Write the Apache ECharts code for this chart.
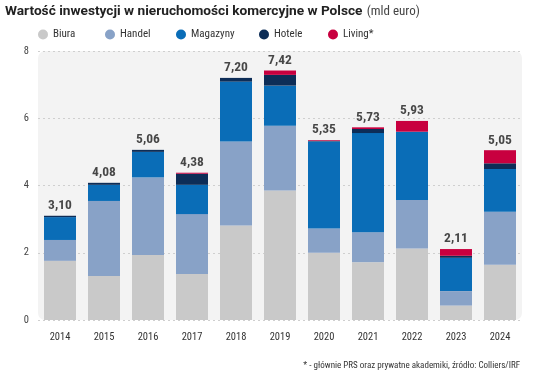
<!DOCTYPE html>
<html><head><meta charset="utf-8">
<script src="https://cdn.jsdelivr.net/npm/echarts@6/dist/echarts.min.js"></script>
<style>html,body{margin:0;padding:0;background:#fff}#c{width:536px;height:376px}</style>
</head><body><div id="c"></div>
<script>
var years = ['2014','2015','2016','2017','2018','2019','2020','2021','2022','2023','2024'];
var biura    = [1.76,1.31,1.93,1.37,2.81,3.85,2.00,1.72,2.13,0.43,1.64];
var handel   = [0.62,2.23,2.31,1.78,2.50,1.93,0.72,0.89,1.44,0.43,1.58];
var magazyny = [0.68,0.48,0.76,0.87,1.78,1.19,2.59,2.95,2.03,0.99,1.27];
var hotele   = [0.04,0.06,0.06,0.33,0.11,0.32,0.02,0.12,0.00,0.06,0.17];
var living   = [0.00,0.00,0.00,0.03,0.00,0.13,0.02,0.05,0.32,0.20,0.39];
var totals   = [3.10,4.08,5.06,4.38,7.20,7.42,5.35,5.73,5.93,2.11,5.05];
var yTicks = [0,2,4,6,8];
var seriesNames = ['Biura','Handel','Magazyny','Hotele','Living*'];

var FONT = "'Roboto Condensed','DejaVu Sans Condensed',sans-serif";
var colors = {Biura:'#c9c9c9', Handel:'#88a2c7', Magazyny:'#0a6db7', Hotele:'#0d2d57', 'Living*':'#c8003f'};
var legendLeft = [38, 105, 176, 259, 328];
var chart = echarts.init(document.getElementById('c'));
function bar(name, data){
  return {name:name, type:'bar', stack:'t', data:data, barWidth:32,
    itemStyle:{color:colors[name]}, emphasis:{disabled:true}};
}
var legends = seriesNames.map(function(n,i){
  return {left:legendLeft[i], top:29, padding:0, icon:'circle', itemWidth:10, itemHeight:10,
    selectedMode:false, textStyle:{fontFamily:FONT, fontSize:11, color:'#333'}, data:[n]};
});
chart.setOption({
  animation:false,
  textStyle:{fontFamily:FONT},
  title:{left:5, top:3, padding:0,
    text:'{b|Wartość inwestycji w nieruchomości komercyjne w Polsce} {n|(mld euro)}',
    textStyle:{fontWeight:'normal', rich:{
      b:{fontFamily:"Roboto,sans-serif", fontWeight:'bold', fontSize:13.7, color:'#222'},
      n:{fontFamily:FONT, fontWeight:'normal', fontSize:13, color:'#444'}}}},
  legend:legends,
  graphic:[
    {type:'rect', left:38, top:51, z:-10, shape:{width:484, height:269, r:7}, style:{fill:'#f3f3f3'}},
    {type:'text', right:16, top:361, style:{text:'* - głównie PRS oraz prywatne akademiki, źródło: Colliers/IRF', fontFamily:FONT, fontSize:9, fill:'#333'}}
  ],
  grid:{left:38, right:14, top:51, bottom:56},
  xAxis:{type:'category', data:years, axisLine:{show:false}, axisTick:{show:false},
    axisLabel:{margin:12, fontSize:10.5, color:'#333', fontFamily:FONT}},
  yAxis:{type:'value', min:yTicks[0], max:yTicks[yTicks.length-1], interval:2,
    axisLabel:{margin:9, fontSize:10.5, color:'#444', fontFamily:FONT},
    splitLine:{lineStyle:{type:[2,3], color:'#cfcfcf'}}},
  series:[
    bar('Biura', biura), bar('Handel', handel), bar('Magazyny', magazyny),
    bar('Hotele', hotele), bar('Living*', living),
    {type:'scatter', data:totals, symbolSize:0, silent:true, z:10,
      label:{show:true, position:'top', distance:3, fontFamily:FONT, fontWeight:'bold', fontSize:13.5, color:'#1a1a1a',
        formatter:function(p){return p.value.toFixed(2).replace('.',',');}}}
  ]
});
</script></body></html>
